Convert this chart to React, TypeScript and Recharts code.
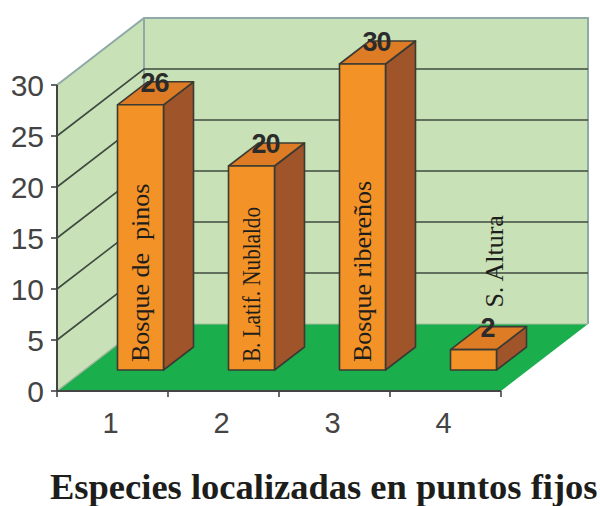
import { BarChart, Bar, XAxis, YAxis, ReferenceArea, ReferenceLine, LabelList } from "recharts"

const puntos = ["1", "2", "3", "4"]
const especies = [26, 20, 30, 2]
const habitats = ["Bosque de  pinos", "B. Latif. Nublaldo", "Bosque ribereños", "S. Altura"]
const yTicks = [0, 5, 10, 15, 20, 25, 30]
const wallLines = [5, 10, 15, 20, 25]

const data = puntos.map((punto, i) => ({ punto, especies: especies[i], habitat: habitats[i] }))

// how far the back wall sits from the front plane
const WALL_DX = 87
const WALL_DY = -67
// bars stand part way into the floor, and this is their own depth
const BAR_DX = 27.5
const BAR_DY = -21
const BAR_SIDE_DX = 30
const BAR_SIDE_DY = -23

const OUTLINE = "#3b3b33"
const WALL_EDGE = "#8fa9a6"

const Walls = ({ x, y, width, height }: any) => {
    const bottom = y + height
    const right = x + width
    return (
        <g>
            <polygon points={`${x},${y} ${x + WALL_DX},${y + WALL_DY} ${x + WALL_DX},${bottom + WALL_DY} ${x},${bottom}`} fill="#c9e1b6" />
            <polygon points={`${x + WALL_DX},${y + WALL_DY} ${right + WALL_DX},${y + WALL_DY} ${right + WALL_DX},${bottom + WALL_DY} ${x + WALL_DX},${bottom + WALL_DY}`} fill="#c9e1b6" />
            <polygon points={`${x},${bottom} ${x + WALL_DX},${bottom + WALL_DY} ${right + WALL_DX},${bottom + WALL_DY} ${right},${bottom}`} fill="#1aae4d" />
            <polyline
                points={`${x},${y} ${x + WALL_DX},${y + WALL_DY} ${right + WALL_DX},${y + WALL_DY} ${right + WALL_DX},${bottom + WALL_DY}`}
                fill="none"
                stroke={WALL_EDGE}
                strokeWidth={2}
            />
            <line x1={x + WALL_DX} y1={y + WALL_DY} x2={x + WALL_DX} y2={bottom + WALL_DY} stroke={WALL_EDGE} strokeWidth={2} />
            <line x1={x + WALL_DX} y1={bottom + WALL_DY} x2={right + WALL_DX} y2={bottom + WALL_DY} stroke="#a5bda0" strokeWidth={1} />
            <line x1={x} y1={bottom} x2={x + WALL_DX} y2={bottom + WALL_DY} stroke="#a5b5a0" strokeWidth={1.5} />
        </g>
    )
}

const WallLine = ({ x1, y1, x2 }: any) => (
    <polyline
        points={`${x1},${y1} ${x1 + WALL_DX},${y1 + WALL_DY} ${x2 + WALL_DX},${y1 + WALL_DY}`}
        fill="none"
        stroke="#3f4a40"
        strokeWidth={1.6}
    />
)

const Box = ({ x, y, width, height }: any) => {
    const left = x + BAR_DX
    const right = left + width
    const top = y + BAR_DY
    const bottom = top + height
    return (
        <g stroke={OUTLINE} strokeWidth={1.6} strokeLinejoin="round">
            <polygon points={`${right},${top} ${right + BAR_SIDE_DX},${top + BAR_SIDE_DY} ${right + BAR_SIDE_DX},${bottom + BAR_SIDE_DY} ${right},${bottom}`} fill="#a0542a" />
            <polygon points={`${left},${top} ${left + BAR_SIDE_DX},${top + BAR_SIDE_DY} ${right + BAR_SIDE_DX},${top + BAR_SIDE_DY} ${right},${top}`} fill="#de7c26" />
            <rect x={left} y={top} width={width} height={height} fill="#f39226" />
        </g>
    )
}

const ValueLabel = ({ x, y, width, value }: any) => (
    <text
        x={x + BAR_DX + width / 2 + 14}
        y={y + BAR_DY - 13}
        textAnchor="middle"
        fontFamily="'Liberation Sans', Arial, sans-serif"
        fontSize={27}
        fontWeight="bold"
        letterSpacing={-1}
        fill="#2b2b2b"
    >
        {value}
    </text>
)

// tall bars carry the name inside, the short one has it floating above
const HabitatLabel = ({ x, y, width, height, value, index }: any) => {
    const tall = height > 60
    const tx = x + BAR_DX + width / 2 + (tall ? 8 : 30)
    const ty = tall ? y + BAR_DY + height - 8 : y + BAR_DY - 42
    // the second name is set narrower than the others
    const squeeze = index === 1 ? { textLength: 155, lengthAdjust: "spacingAndGlyphs" } : {}
    return (
        <text
            transform={`rotate(-90 ${tx} ${ty})`}
            x={tx}
            y={ty}
            fontFamily="'Liberation Serif', 'Times New Roman', serif"
            fontSize={26}
            fill="#1d1d1b"
            xmlSpace="preserve"
            style={{ whiteSpace: "pre" }}
            {...squeeze}
        >
            {value}
        </text>
    )
}

const CategoryTick = ({ x, y, width, payload, index }: any) => {
    const halfBand = width / puntos.length / 2
    return (
        <g>
            {index === 0 && <line x1={x - halfBand} y1={y - 8} x2={x - halfBand} y2={y - 2} stroke="#444" strokeWidth={1.6} />}
            <line x1={x + halfBand} y1={y - 8} x2={x + halfBand} y2={y - 2} stroke="#444" strokeWidth={1.6} />
            <text x={x - 2} y={y + 34} textAnchor="middle" fontFamily="'Liberation Sans', Arial, sans-serif" fontSize={29} fill="#444">
                {payload.value}
            </text>
        </g>
    )
}

const App = () => {
    return (
        <div style={{ position: "absolute", left: 0, top: 0, width: 600, height: 506, background: "#fff", overflow: "hidden" }}>
            <BarChart
                width={600}
                height={506}
                data={data}
                margin={{ top: 85, right: 99, bottom: 55, left: 7 }}
                barSize={46}
            >
                <XAxis
                    dataKey="punto"
                    height={60}
                    axisLine={{ stroke: "#444", strokeWidth: 2 }}
                    tickLine={false}
                    tick={<CategoryTick />}
                />
                <YAxis
                    domain={[0, 30]}
                    ticks={yTicks}
                    width={50}
                    interval={0}
                    axisLine={{ stroke: "#444", strokeWidth: 2 }}
                    tickLine={{ stroke: "#444", strokeWidth: 1.6 }}
                    tickSize={6}
                    tickMargin={7}
                    tick={{ fontFamily: "'Liberation Sans', Arial, sans-serif", fontSize: 30, fill: "#444" }}
                />
                <ReferenceArea y1={0} y2={30} ifOverflow="visible" stroke="none" fill="none" shape={<Walls />} zIndex={100} />
                {wallLines.map((v) => (
                    <ReferenceLine key={v} y={v} ifOverflow="visible" shape={<WallLine />} zIndex={150} />
                ))}
                <Bar dataKey="especies" isAnimationActive={false} shape={<Box />}>
                    <LabelList dataKey="habitat" content={<HabitatLabel />} />
                    <LabelList dataKey="especies" content={<ValueLabel />} />
                </Bar>
            </BarChart>
            <div
                style={{
                    position: "absolute",
                    left: 50,
                    top: 469,
                    lineHeight: "36px",
                    fontFamily: "'Liberation Serif', 'Times New Roman', serif",
                    fontWeight: "bold",
                    fontSize: 36.5,
                    whiteSpace: "nowrap",
                    color: "#1d1d1b",
                }}
            >
                Especies localizadas en puntos fijos
            </div>
        </div>
    )
}

export default App
